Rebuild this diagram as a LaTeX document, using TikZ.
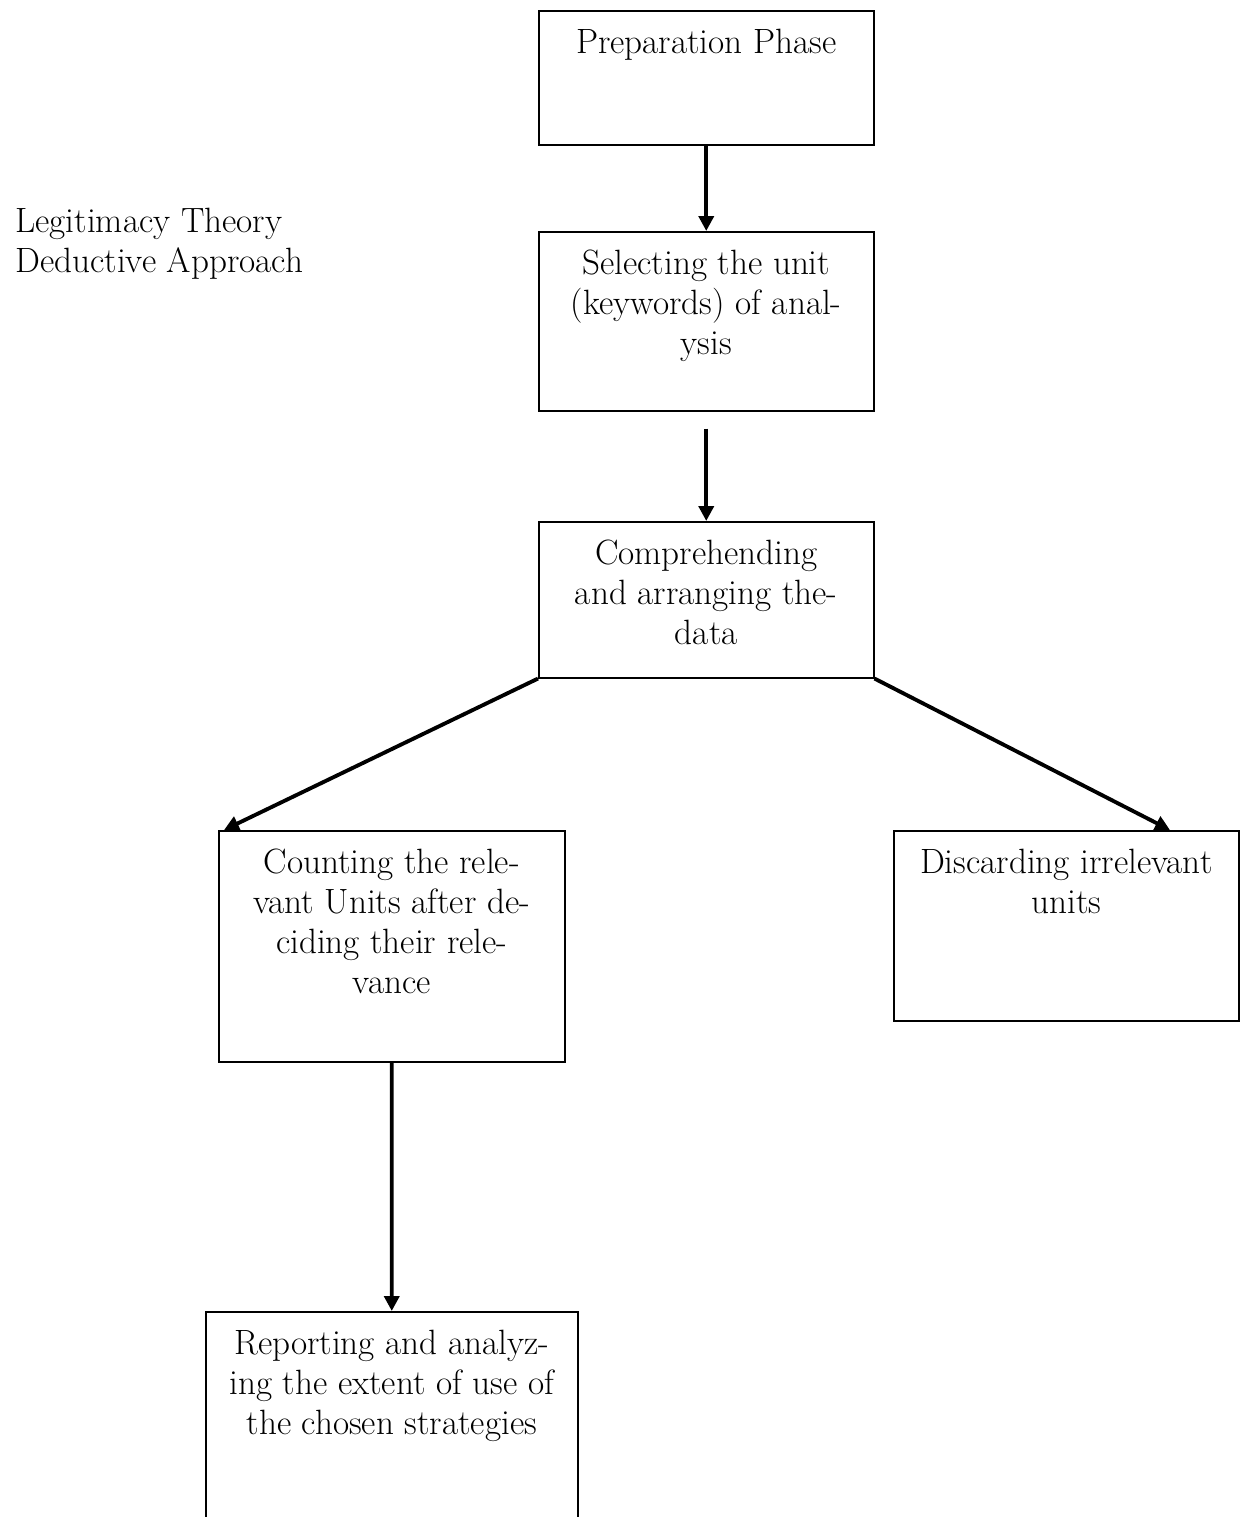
\documentclass[tikz,border=0pt]{standalone}
\usetikzlibrary{positioning}
\usetikzlibrary{arrows.meta}
\usetikzlibrary{calc}

\tikzset{
  stage/.style={draw, line width=0.9pt, inner sep=0pt, anchor=north west},
  flow/.style={-{Triangle[length=8.5pt,width=8.5pt]}, line width=2.2pt},
}
% top aligned text in a fixed size box
\newcommand{\stagebox}[3]{\parbox[t][#2][t]{#1}{\centering\rule{0pt}{0.86cm}#3}}

\begin{document}
\begin{tikzpicture}[x=0.02cm, y=-0.02cm, font=\fontsize{20}{22.7}\selectfont]
	\path[use as bounding box, clip] (0,0) rectangle (1241,1517);

	% side note
	\node[anchor=base west, align=left, inner sep=0pt] (theory) at (15,272) {Legitimacy Theory\\Deductive Approach};

	% the stages
	\node[stage] (prep) at (538,10) {\stagebox{6.7cm}{2.68cm}{Preparation Phase}};
	\node[stage] (select) at (538,231) {\stagebox{6.7cm}{3.58cm}{Selecting the unit\\(keywords) of anal-\\ysis}};
	\node[stage] (comp) at (538,521) {\stagebox{6.7cm}{3.12cm}{Comprehending\\and arranging the-\\data}};
	\node[stage] (count) at (218,830) {\stagebox{6.92cm}{4.62cm}{Counting the rele-\\vant Units after de-\\ciding their rele-\\vance}};
	\node[stage] (discard) at (893,830) {\stagebox{6.9cm}{3.8cm}{Discarding irrelevant\\units}};
	\node[stage] (report) at (205,1311) {\stagebox{7.44cm}{4.8cm}{Reporting and analyz-\\ing the extent of use of\\the chosen strategies}};

	% arrows
	\draw[flow] (prep.south) -- (select.north);
	\draw[flow] ($(select.south)+(0,17)$) -- (comp.north);
	\draw[flow] (comp.south west) -- ($(count.north west)+(6,0)$);
	\draw[flow] (comp.south east) -- ($(discard.north west)+(277,0)$);
	\draw[flow] (count.south) -- (report.north);

\end{tikzpicture}
\end{document}
